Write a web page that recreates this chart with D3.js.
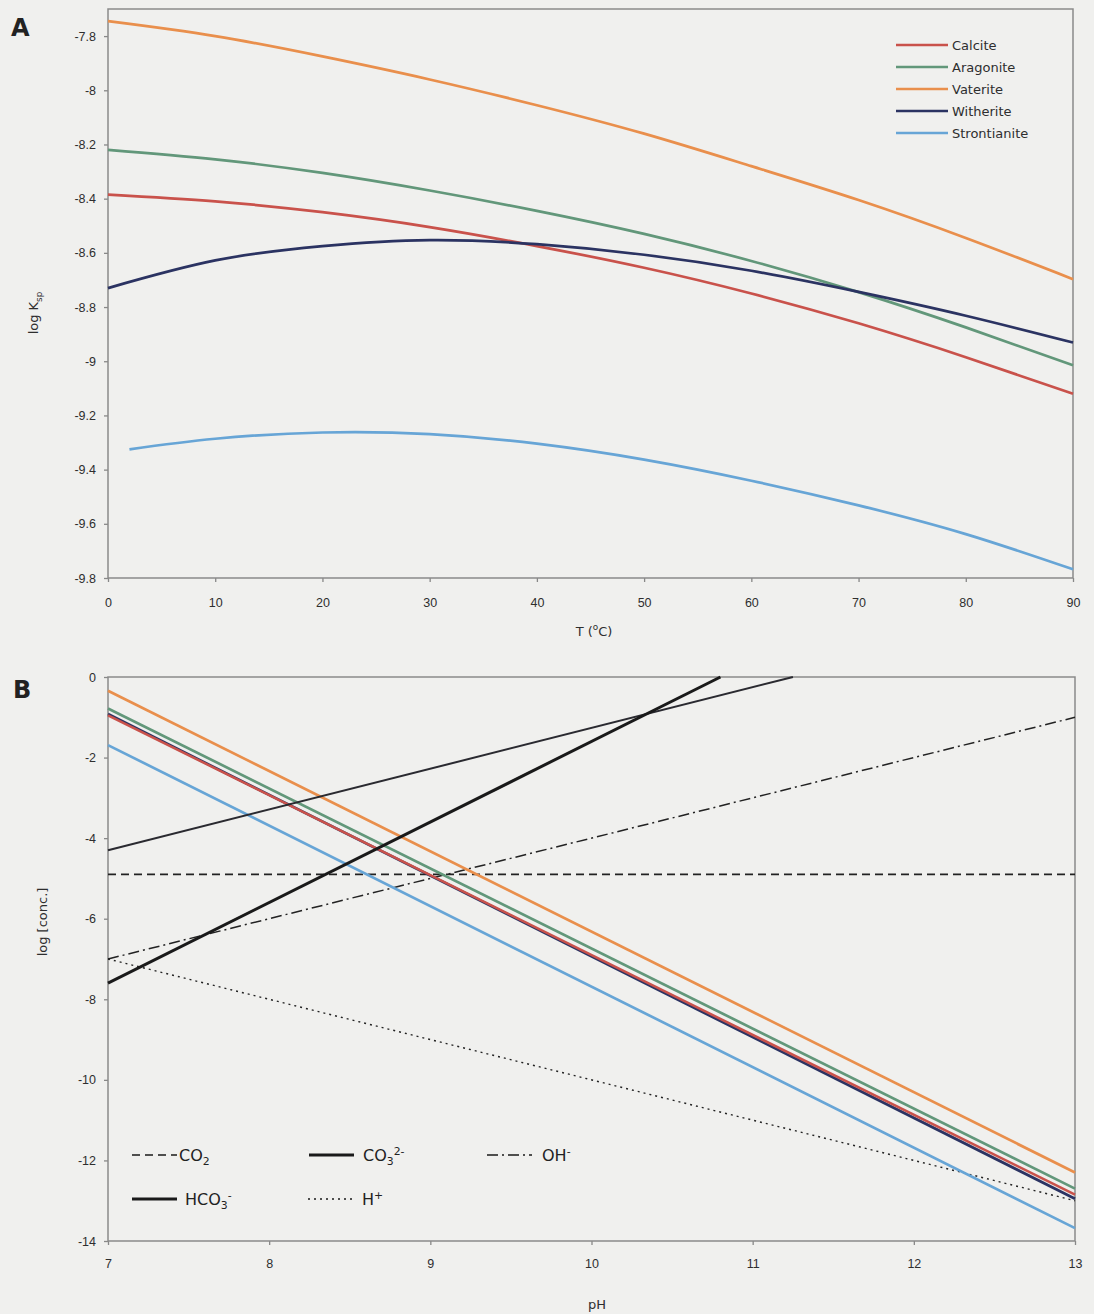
<!DOCTYPE html>
<html>
<head>
<meta charset="utf-8">
<script src="https://cdn.jsdelivr.net/npm/d3@7"></script>
<style>
body { margin: 0; background: #f0f0ee; }
svg { display: block; font-family: "DejaVu Sans", Verdana, sans-serif; }
</style>
</head>
<body>
<script>
// panel A : log Ksp vs temperature
var tempC = [0, 10, 20, 30, 40, 50, 60, 70, 80, 90];
var calcite = [-8.385, -8.41, -8.45, -8.505, -8.575, -8.655, -8.75, -8.86, -8.985, -9.12];
var aragonite = [-8.22, -8.255, -8.305, -8.37, -8.445, -8.53, -8.63, -8.745, -8.875, -9.015];
var vaterite = [-7.745, -7.80, -7.875, -7.96, -8.055, -8.16, -8.28, -8.405, -8.545, -8.697];
var witherite = [-8.73, -8.628, -8.575, -8.553, -8.568, -8.607, -8.666, -8.744, -8.832, -8.931];
var tempSr = [2, 10, 20, 30, 40, 50, 60, 70, 80, 90];
var strontianite = [-9.325, -9.286, -9.263, -9.269, -9.304, -9.363, -9.441, -9.532, -9.638, -9.768];
var xTicksA = [0, 10, 20, 30, 40, 50, 60, 70, 80, 90];
var yTicksA = [-9.8, -9.6, -9.4, -9.2, -9, -8.8, -8.6, -8.4, -8.2, -8, -7.8];

// panel B : log concentration vs pH (end points of straight lines)
var phEnds = [7, 13];
var caCalcite = [-0.95, -12.85];
var caAragonite = [-0.78, -12.7];
var caVaterite = [-0.34, -12.3];
var baWitherite = [-0.92, -12.95];
var srStrontianite = [-1.69, -13.68];
var co2 = [-4.9, -4.9];
var hPlus = [-7, -13];
var ohMinus = [-7, -1];
var hco3Ph = [7, 11.25];
var hco3 = [-4.3, 0];
var co3Ph = [7, 10.8];
var co3 = [-7.6, 0];
var xTicksB = [7, 8, 9, 10, 11, 12, 13];
var yTicksB = [-14, -12, -10, -8, -6, -4, -2, 0];

var colors = {
  calcite: '#c9524b',
  aragonite: '#62977a',
  vaterite: '#e98f4c',
  witherite: '#2b3362',
  strontianite: '#67a5d6'
};

var W = 1094, H = 1314;
var svg = d3.select('body').append('svg').attr('width', W).attr('height', H);
svg.append('rect').attr('width', W).attr('height', H).attr('fill', '#f0f0ee');

function fmt(d) { return String(+d.toFixed(1)); }

function drawAxes(x, y, xt, yt, pad) {
  var g = svg.append('g');
  var x0 = x.range()[0], x1 = x.range()[1], y0 = y.range()[0], y1 = y.range()[1];
  g.append('g').attr('transform', 'translate(' + x0 + ',0)')
    .call(d3.axisLeft(y).tickValues(yt).tickSize(4).tickPadding(8).tickFormat(fmt));
  g.append('g').attr('transform', 'translate(0,' + y0 + ')')
    .call(d3.axisBottom(x).tickValues(xt).tickSize(4).tickPadding(pad).tickFormat(fmt));
  g.selectAll('.domain').remove();
  g.selectAll('.tick line').attr('stroke', '#888').attr('stroke-width', 1.3);
  g.selectAll('.tick text').attr('fill', '#2e2e2e').attr('font-size', 12.5);
  g.append('rect').attr('x', x0).attr('y', y1).attr('width', x1 - x0).attr('height', y0 - y1)
    .attr('fill', 'none').attr('stroke', '#8a8a8a').attr('stroke-width', 1.5);
}

// super / subscript helper
function rich(sel, parts, size) {
  var shift = 0;
  parts.forEach(function (p) {
    var t = sel.append('tspan').text(p[0]);
    var want = p[1] === 'sub' ? 4 : (p[1] === 'sup' ? -6 : 0);
    t.attr('dy', want - shift);
    if (p[1]) t.attr('font-size', size * 0.68);
    shift = want;
  });
}

// ---------- panel A ----------
var xA = d3.scaleLinear().domain([0, 90]).range([108, 1073]);
var yA = d3.scaleLinear().domain([-9.8, -7.7]).range([578, 9]);
drawAxes(xA, yA, xTicksA, yTicksA, 16);

var lineA = d3.line().x(function (d) { return xA(d[0]); }).y(function (d) { return yA(d[1]); })
  .curve(d3.curveNatural);

var seriesA = [
  { name: 'Calcite', t: tempC, v: calcite, c: colors.calcite },
  { name: 'Aragonite', t: tempC, v: aragonite, c: colors.aragonite },
  { name: 'Vaterite', t: tempC, v: vaterite, c: colors.vaterite },
  { name: 'Witherite', t: tempC, v: witherite, c: colors.witherite },
  { name: 'Strontianite', t: tempSr, v: strontianite, c: colors.strontianite }
];

svg.append('g').selectAll('path').data(seriesA).enter().append('path')
  .attr('d', function (s) { return lineA(s.t.map(function (t, i) { return [t, s.v[i]]; })); })
  .attr('fill', 'none').attr('stroke', function (s) { return s.c; }).attr('stroke-width', 2.7);

var legA = svg.append('g').selectAll('g').data(seriesA).enter().append('g')
  .attr('transform', function (s, i) { return 'translate(896,' + (45 + i * 22) + ')'; });
legA.append('line').attr('x1', 0).attr('x2', 52).attr('stroke', function (s) { return s.c; }).attr('stroke-width', 2.7);
legA.append('text').attr('x', 56).attr('dy', '0.35em').attr('font-size', 13).attr('fill', '#2e2e2e')
  .text(function (s) { return s.name; });

var yl = svg.append('text').attr('transform', 'translate(38,313) rotate(-90)')
  .attr('text-anchor', 'middle').attr('font-size', 13).attr('fill', '#2e2e2e');
rich(yl, [['log K'], ['sp', 'sub']], 13);
var xl = svg.append('text').attr('x', 594).attr('y', 636).attr('text-anchor', 'middle')
  .attr('font-size', 13).attr('fill', '#2e2e2e');
rich(xl, [['T ('], ['o', 'sup'], ['C)']], 13);

svg.append('text').attr('x', 11).attr('y', 36).attr('font-size', 24).attr('font-weight', 'bold')
  .attr('fill', '#222').text('A');

// ---------- panel B ----------
var xB = d3.scaleLinear().domain([7, 13]).range([108, 1075]);
var yB = d3.scaleLinear().domain([-14, 0]).range([1241, 677]);
drawAxes(xB, yB, xTicksB, yTicksB, 14);

var lineB = d3.line().x(function (d) { return xB(d[0]); }).y(function (d) { return yB(d[1]); });

var seriesB = [
  { p: phEnds, v: co2, c: '#222', w: 1.6, dash: '8,5' },
  { p: phEnds, v: hPlus, c: '#222', w: 1.4, dash: '2,4' },
  { p: phEnds, v: ohMinus, c: '#222', w: 1.5, dash: '11,4,2,4' },
  { p: phEnds, v: srStrontianite, c: colors.strontianite, w: 2.7 },
  { p: phEnds, v: caVaterite, c: colors.vaterite, w: 2.7 },
  { p: phEnds, v: caAragonite, c: colors.aragonite, w: 2.7 },
  { p: phEnds, v: baWitherite, c: colors.witherite, w: 2.7 },
  { p: phEnds, v: caCalcite, c: colors.calcite, w: 2.5 },
  { p: hco3Ph, v: hco3, c: '#2a2a30', w: 2 },
  { p: co3Ph, v: co3, c: '#1a1a1a', w: 3 }
];

svg.append('g').selectAll('path').data(seriesB).enter().append('path')
  .attr('d', function (s) { return lineB(s.p.map(function (p, i) { return [p, s.v[i]]; })); })
  .attr('fill', 'none').attr('stroke', function (s) { return s.c; })
  .attr('stroke-width', function (s) { return s.w; })
  .attr('stroke-dasharray', function (s) { return s.dash || null; });

var legB = [
  { x: 132, y: 1155, w: 1.6, dash: '8,5', tx: 179, parts: [['CO'], ['2', 'sub']] },
  { x: 309, y: 1155, w: 3.2, dash: null, tx: 363, parts: [['CO'], ['3', 'sub'], ['2-', 'sup']] },
  { x: 487, y: 1155, w: 1.5, dash: '11,4,2,4', tx: 542, parts: [['OH'], ['-', 'sup']] },
  { x: 132, y: 1199, w: 3, dash: null, tx: 185, parts: [['HCO'], ['3', 'sub'], ['-', 'sup']] },
  { x: 308, y: 1199, w: 1.5, dash: '2,4', tx: 362, parts: [['H'], ['+', 'sup']] }
];
legB.forEach(function (l) {
  svg.append('line').attr('x1', l.x).attr('x2', l.x + 45).attr('y1', l.y).attr('y2', l.y)
    .attr('stroke', '#1a1a1a').attr('stroke-width', l.w).attr('stroke-dasharray', l.dash);
  var t = svg.append('text').attr('x', l.tx).attr('y', l.y + 6).attr('font-size', 16).attr('fill', '#222');
  rich(t, l.parts, 16);
});

svg.append('text').attr('transform', 'translate(47,922) rotate(-90)')
  .attr('text-anchor', 'middle').attr('font-size', 13).attr('fill', '#2e2e2e').text('log [conc.]');
svg.append('text').attr('x', 597).attr('y', 1309).attr('text-anchor', 'middle')
  .attr('font-size', 13).attr('fill', '#2e2e2e').text('pH');

svg.append('text').attr('x', 13).attr('y', 698).attr('font-size', 24).attr('font-weight', 'bold')
  .attr('fill', '#222').text('B');
</script>
</body>
</html>
